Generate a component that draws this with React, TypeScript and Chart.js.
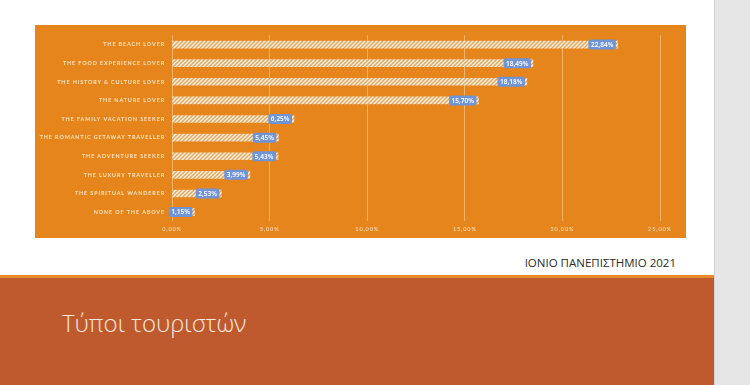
import React, { useEffect, useRef } from 'react';
import { Chart, registerables } from 'chart.js';

Chart.register(...registerables);

const categories = [
  'THE BEACH LOVER',
  'THE FOOD EXPERIENCE LOVER',
  'THE HISTORY & CULTURE LOVER',
  'THE NATURE LOVER',
  'THE FAMILY VACATION SEEKER',
  'THE ROMANTIC GETAWAY TRAVELLER',
  'THE ADVENTURE SEEKER',
  'THE LUXURY TRAVELLER',
  'THE SPIRITUAL WANDERER',
  'NONE OF THE ABOVE',
];
const shares = [22.84, 18.49, 18.18, 15.7, 6.25, 5.45, 5.43, 3.99, 2.53, 1.15];
const xMin = 0;
const xMax = 25;
const xStep = 5;

const footerText = 'ΙΟΝΙΟ ΠΑΝΕΠΙΣΤΗΜΙΟ 2021';
const titleText = 'Τύποι τουριστών';

const fmt = (v: number) => v.toFixed(2).replace('.', ',') + '%';

function makePattern(): CanvasPattern | string {
  const c = document.createElement('canvas');
  c.width = 4;
  c.height = 4;
  const g = c.getContext('2d');
  if (!g) return '#fbefd9';
  g.fillStyle = '#fdf3e2';
  g.fillRect(0, 0, 4, 4);
  g.strokeStyle = '#e5a35a';
  g.lineWidth = 1.4;
  g.beginPath();
  g.moveTo(-1, 5);
  g.lineTo(5, -1);
  g.moveTo(-1, 1);
  g.lineTo(1, -1);
  g.moveTo(3, 5);
  g.lineTo(5, 3);
  g.stroke();
  const p = g.createPattern(c, 'repeat');
  return p || '#fbefd9';
}

const spacingPlugin = {
  id: 'spacing',
  beforeDraw(chart: any) {
    chart.ctx.letterSpacing = '0.9px';
  },
  beforeDatasetsDraw(chart: any) {
    chart.ctx.letterSpacing = '0px';
  },
};

const labelPlugin = {
  id: 'valueLabels',
  afterDatasetsDraw(chart: any) {
    const ctx = chart.ctx as CanvasRenderingContext2D;
    const meta = chart.getDatasetMeta(0);
    const data = chart.data.datasets[0].data as number[];
    ctx.save();
    ctx.font = '600 6.5px "Noto Sans", sans-serif';
    ctx.textBaseline = 'middle';
    ctx.textAlign = 'center';
    meta.data.forEach((el: any, i: number) => {
      const txt = fmt(data[i]);
      const w = ctx.measureText(txt).width + 5;
      const h = 10;
      const right = el.x - 2;
      const left = right - w;
      ctx.fillStyle = '#7094d6';
      ctx.beginPath();
      (ctx as any).roundRect(left, el.y - h / 2, w, h, 2);
      ctx.fill();
      ctx.fillStyle = '#ffffff';
      ctx.fillText(txt, left + w / 2, el.y + 0.5);
    });
    ctx.restore();
  },
};

function BarChart() {
  const ref = useRef<HTMLCanvasElement | null>(null);
  useEffect(() => {
    if (!ref.current) return;
    const pattern = makePattern();
    const chart = new Chart(ref.current, {
      type: 'bar',
      data: {
        labels: categories,
        datasets: [
          {
            data: shares,
            backgroundColor: pattern as any,
            borderWidth: 0,
            barThickness: 7,
          },
        ],
      },
      options: {
        indexAxis: 'y',
        animation: false,
        responsive: false,
        maintainAspectRatio: false,
        layout: { padding: { top: 8.6, right: 26, bottom: 0, left: 0 } },
        plugins: {
          legend: { display: false },
          tooltip: { enabled: false },
        },
        scales: {
          x: {
            min: xMin,
            max: xMax,
            ticks: {
              stepSize: xStep,
              padding: 5,
              color: '#fde7c8',
              font: { family: 'Lato, "Noto Sans", sans-serif', size: 5.5 },
              callback: (v: any) => fmt(Number(v)),
            },
            grid: { color: 'rgba(250,200,140,0.7)', lineWidth: 1, drawTicks: false },
            border: { display: false },
            afterFit: (s: any) => {
              s.height = 16.6;
            },
          },
          y: {
            ticks: {
              padding: 7,
              color: '#fde4c0',
              font: { family: 'Lato, "Noto Sans", sans-serif', size: 5.4, weight: 'bold' },
            },
            grid: { display: false, drawTicks: false },
            border: { display: false },
            afterFit: (s: any) => {
              s.width = 137;
            },
          },
        },
      },
      plugins: [spacingPlugin, labelPlugin],
    });
    return () => chart.destroy();
  }, []);
  return <canvas ref={ref} width={651} height={213} style={{ width: 651, height: 213, display: 'block' }} />;
}

export default function App() {
  return (
    <div style={{ position: 'absolute', left: 0, top: 0, width: 750, height: 385, background: '#ffffff', overflow: 'hidden' }}>
      <div style={{ position: 'absolute', left: 714, top: 0, width: 36, height: 385, background: '#e6e6e6', borderLeft: '1px solid #d2d2d2' }} />
      <div style={{ position: 'absolute', left: 35, top: 25, width: 651, height: 213, background: '#e6851c' }}>
        <BarChart />
      </div>
      <div
        style={{
          position: 'absolute',
          right: 750 - 676,
          top: 255,
          fontFamily: '"Open Sans", "Noto Sans", sans-serif',
          fontSize: 11.5,
          color: '#2a2a2a',
          whiteSpace: 'nowrap',
        }}
      >
        {footerText}
      </div>
      <div style={{ position: 'absolute', left: 0, top: 275, width: 714, height: 3, background: '#e8892a' }} />
      <div style={{ position: 'absolute', left: 0, top: 278, width: 714, height: 107, background: '#bf5a2e' }}>
        <div
          style={{
            position: 'absolute',
            left: 62,
            top: 28,
            fontFamily: '"Open Sans", "Noto Sans", sans-serif',
            fontWeight: 300,
            fontSize: 24,
            color: '#f7e9df',
            whiteSpace: 'nowrap',
          }}
        >
          {titleText}
        </div>
      </div>
    </div>
  );
}
